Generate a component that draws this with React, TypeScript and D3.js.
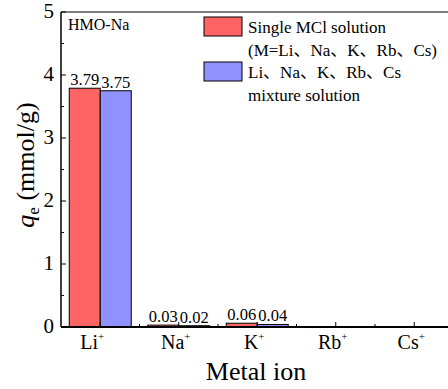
import React, { useEffect, useRef } from 'react';
import * as d3 from 'd3';

const ions = ['Li', 'Na', 'K', 'Rb', 'Cs'];
const seriesNames = ['single', 'mixture'];
const singleValues = [3.79, 0.03, 0.06, 0, 0];
const mixtureValues = [3.75, 0.02, 0.04, 0, 0];
const yTicks = [0, 1, 2, 3, 4, 5];
const yMinorTicks = [0.5, 1.5, 2.5, 3.5, 4.5];
const colors = ['#FF6464', '#9090FF'];

const FONT = "'Liberation Serif', 'Noto Sans CJK SC', serif";

const App: React.FC = () => {
  const svgRef = useRef<SVGSVGElement>(null);

  useEffect(() => {
    if (!svgRef.current) return;
    const svg = d3.select(svgRef.current);
    svg.selectAll('*').remove();

    const left = 61;
    const right = 453.5;
    const top = 12;
    const bottom = 327;

    const x = d3.scaleBand<string>().domain(ions).range([left, right]);
    const xs = d3.scaleBand<string>().domain(seriesNames).range([-31, 31]);
    const y = d3.scaleLinear().domain([0, 5]).range([bottom, top]);

    const g = svg.append('g').style('font-family', FONT);

    // bars
    const data = [singleValues, mixtureValues];
    data.forEach((vals, si) => {
      ions.forEach((ion, i) => {
        const v = vals[i];
        if (v <= 0) return;
        const cx = x(ion)! + x.bandwidth() / 2;
        const bx = cx + xs(seriesNames[si])!;
        g.append('rect')
          .attr('x', bx)
          .attr('y', y(v))
          .attr('width', xs.bandwidth())
          .attr('height', y(0) - y(v))
          .attr('fill', colors[si])
          .attr('stroke', '#000')
          .attr('stroke-width', 1);
        g.append('text')
          .attr('x', bx + xs.bandwidth() / 2)
          .attr('y', y(v) - 3)
          .attr('text-anchor', 'middle')
          .attr('font-size', 16.5)
          .text(v.toFixed(2));
      });
    });

    // frame
    g.append('line').attr('x1', left).attr('x2', right).attr('y1', top).attr('y2', top)
      .attr('stroke', '#000').attr('stroke-width', 1.2);
    g.append('line').attr('x1', right).attr('x2', right).attr('y1', top).attr('y2', bottom)
      .attr('stroke', '#000').attr('stroke-width', 1.2);
    g.append('line').attr('x1', left).attr('x2', left).attr('y1', top).attr('y2', bottom)
      .attr('stroke', '#000').attr('stroke-width', 1.5);
    g.append('line').attr('x1', left).attr('x2', right).attr('y1', bottom).attr('y2', bottom)
      .attr('stroke', '#000').attr('stroke-width', 1.8);

    // y ticks
    yTicks.forEach((t) => {
      g.append('line').attr('x1', left).attr('x2', left + 5).attr('y1', y(t)).attr('y2', y(t))
        .attr('stroke', '#000').attr('stroke-width', 1);
      g.append('text')
        .attr('x', left - 7)
        .attr('y', y(t) + 6)
        .attr('text-anchor', 'end')
        .attr('font-size', 21)
        .text(t);
    });
    yMinorTicks.forEach((t) => {
      g.append('line').attr('x1', left).attr('x2', left + 3).attr('y1', y(t)).attr('y2', y(t))
        .attr('stroke', '#000').attr('stroke-width', 1);
    });

    // x ticks
    ions.forEach((ion, i) => {
      const cx = x(ion)! + x.bandwidth() / 2;
      g.append('line').attr('x1', cx).attr('x2', cx).attr('y1', bottom).attr('y2', bottom - 5)
        .attr('stroke', '#000').attr('stroke-width', 1);
      if (i > 0) {
        const bx = x(ion)!;
        g.append('line').attr('x1', bx).attr('x2', bx).attr('y1', bottom).attr('y2', bottom - 3)
          .attr('stroke', '#000').attr('stroke-width', 1);
      }
      const t = g.append('text')
        .attr('x', cx - (i === 0 ? 8 : 3))
        .attr('y', bottom + 22)
        .attr('text-anchor', 'middle')
        .attr('font-size', 20);
      t.append('tspan').text(ion);
      t.append('tspan').attr('font-size', 11).attr('dy', -9).text('+');
    });

    // axis titles
    g.append('text')
      .attr('x', 256)
      .attr('y', 380)
      .attr('text-anchor', 'middle')
      .attr('font-size', 26)
      .text('Metal ion');

    const yl = g.append('text')
      .attr('transform', `translate(34,165) rotate(-90)`)
      .attr('text-anchor', 'middle')
      .attr('font-size', 26);
    yl.append('tspan').attr('font-style', 'italic').text('q');
    yl.append('tspan').attr('font-size', 17).attr('dy', 5).text('e');
    yl.append('tspan').attr('dy', -5).text(' (mmol/g)');

    // inner label
    g.append('text').attr('x', 68).attr('y', 30).attr('font-size', 16).text('HMO-Na');

    // legend
    const legend = [
      ['Single MCl solution', '(M=Li、Na、K、Rb、Cs)'],
      ['Li、Na、K、Rb、Cs', 'mixture solution'],
    ];
    legend.forEach((lines, i) => {
      const ly = 17 + i * 45;
      g.append('rect')
        .attr('x', 204).attr('y', ly).attr('width', 38).attr('height', 19)
        .attr('fill', colors[i]).attr('stroke', '#000').attr('stroke-width', 1);
      lines.forEach((ln, j) => {
        g.append('text')
          .attr('x', 248)
          .attr('y', ly + 16 + j * 23)
          .attr('font-size', 17)
          .text(ln);
      });
    });
  }, []);

  return (
    <svg
      ref={svgRef}
      width={448}
      height={389}
      style={{ position: 'absolute', left: 0, top: 0, background: '#fff' }}
    />
  );
};

export default App;
